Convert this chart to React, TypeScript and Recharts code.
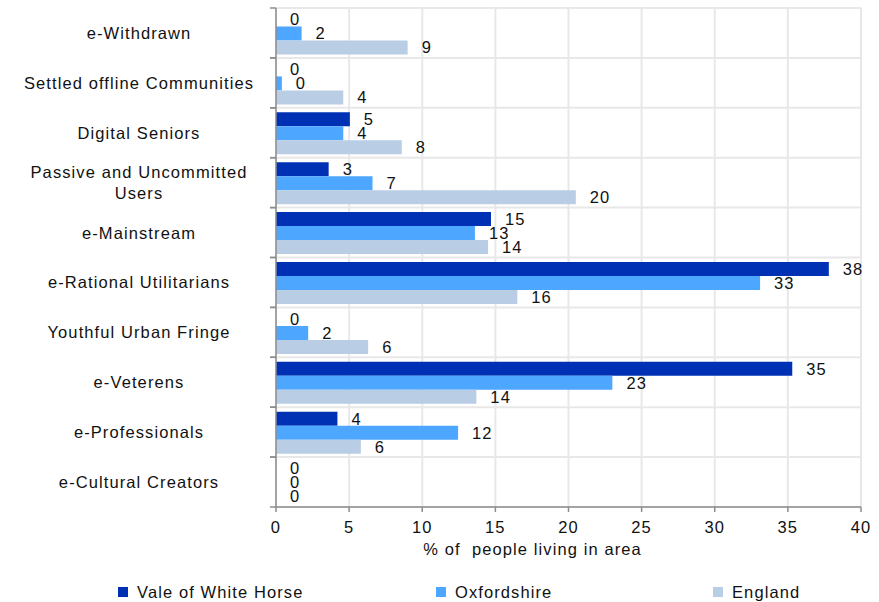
import React from "react";
import { BarChart, Bar, XAxis, YAxis, CartesianGrid, Legend, LabelList } from "recharts";

const categories = [
  "e-Withdrawn",
  "Settled offline Communities",
  "Digital Seniors",
  "Passive and Uncommitted Users",
  "e-Mainstream",
  "e-Rational Utilitarians",
  "Youthful Urban Fringe",
  "e-Veterens",
  "e-Professionals",
  "e-Cultural Creators",
];

const valeOfWhiteHorse = [0, 0, 5.05, 3.6, 14.7, 37.8, 0, 35.3, 4.2, 0];
const oxfordshire = [1.75, 0.4, 4.6, 6.6, 13.6, 33.1, 2.2, 23.0, 12.45, 0];
const england = [9.0, 4.6, 8.6, 20.5, 14.5, 16.5, 6.3, 13.7, 5.8, 0];

// labels as printed on the chart
const valeLabels = [0, 0, 5, 3, 15, 38, 0, 35, 4, 0];
const oxfordLabels = [2, 0, 4, 7, 13, 33, 2, 23, 12, 0];
const englandLabels = [9, 4, 8, 20, 14, 16, 6, 14, 6, 0];

const xTicks = [0, 5, 10, 15, 20, 25, 30, 35, 40];

const data = categories.map((name, i) => ({
  name,
  vale: valeOfWhiteHorse[i],
  oxford: oxfordshire[i],
  england: england[i],
  valeLabel: valeLabels[i],
  oxfordLabel: oxfordLabels[i],
  englandLabel: englandLabels[i],
}));

const W = 879;
const H = 602;
const AXIS_W = 276;
const AXIS_GRAY = "#8c8c8c";
const LS = 1.1;
const FS = 16.5;

function splitLabel(label: string, max = 27) {
  const words = label.split(" ");
  const lines: string[] = [];
  let cur = "";
  words.forEach((w) => {
    const next = cur ? cur + " " + w : w;
    if (next.length > max && cur) {
      lines.push(cur);
      cur = w;
    } else cur = next;
  });
  if (cur) lines.push(cur);
  return lines;
}

const CategoryTick = (props: any) => {
  const { y, payload } = props;
  const band = (H - 8 - 5 - 45 - 45) / categories.length;
  const lines = splitLabel(payload.value);
  const lh = 21;
  const startY = y - ((lines.length - 1) * lh) / 2;
  return (
    <g>
      <line x1={AXIS_W - 6} x2={AXIS_W} y1={y - band / 2} y2={y - band / 2} stroke={AXIS_GRAY} strokeWidth={1.5} />
      <line x1={AXIS_W - 6} x2={AXIS_W} y1={y + band / 2} y2={y + band / 2} stroke={AXIS_GRAY} strokeWidth={1.5} />
      <text x={139} y={startY} textAnchor="middle" dominantBaseline="central" fontSize={FS} fill="#111" letterSpacing={LS}>
        {lines.map((l, i) => (
          <tspan key={i} x={139} dy={i === 0 ? 0 : lh}>
            {l}
          </tspan>
        ))}
      </text>
    </g>
  );
};

const AxisTitle = (props: any) => {
  const vb = props.viewBox || { x: AXIS_W, y: 507, width: 585 };
  return (
    <text
      x={vb.x + vb.width / 2 - 36}
      y={vb.y + 48}
      textAnchor="middle"
      fontSize={FS}
      fill="#111"
      letterSpacing={LS}
      style={{ whiteSpace: "pre" }}
    >
      % of  people living in area
    </text>
  );
};

const legendX: Record<string, number> = { vale: 118, oxford: 436, england: 713 };

const renderLegend = (props: any) => (
  <div style={{ position: "relative", height: 45 }}>
    {(props.payload || []).map((p: any, i: number) => (
      <div
        key={i}
        style={{
          position: "absolute",
          left: legendX[p.dataKey] ?? 0,
          top: 30,
          height: 20,
          lineHeight: "20px",
          display: "flex",
          alignItems: "center",
          fontSize: FS,
          letterSpacing: LS,
          color: "#111",
          whiteSpace: "nowrap",
        }}
      >
        <span style={{ display: "inline-block", width: 10, height: 10, background: p.color, marginRight: 9 }} />
        {p.value}
      </div>
    ))}
  </div>
);

const labelStyle = { fill: "#111", fontSize: FS, letterSpacing: LS };

export default function App() {
  return (
    <div
      style={{
        position: "absolute",
        left: 0,
        top: 0,
        width: W,
        height: H,
        background: "#fff",
        fontFamily: "'Liberation Sans', Arial, sans-serif",
      }}
    >
      <BarChart
        width={W}
        height={H}
        data={data}
        layout="vertical"
        margin={{ top: 8, right: 18, left: 0, bottom: 5 }}
        barCategoryGap={4.5}
        barGap={0}
      >
        <CartesianGrid
          stroke="#e8e8e8"
          strokeWidth={2}
          horizontalCoordinatesGenerator={({ offset }: any) =>
            categories.map((_, i) => offset.top + (i * offset.height) / categories.length).concat(offset.top + offset.height)
          }
        />
        <XAxis
          type="number"
          domain={[0, 40]}
          ticks={xTicks}
          interval={0}
          height={45}
          axisLine={{ stroke: AXIS_GRAY, strokeWidth: 1.5 }}
          tickLine={{ stroke: AXIS_GRAY, strokeWidth: 1.5 }}
          tickSize={5}
          tickMargin={9}
          tick={{ fill: "#111", fontSize: FS, letterSpacing: LS }}
          label={<AxisTitle />}
        />
        <YAxis
          type="category"
          dataKey="name"
          width={AXIS_W}
          interval={0}
          axisLine={{ stroke: AXIS_GRAY, strokeWidth: 1.5 }}
          tickLine={false}
          tick={<CategoryTick />}
        />
        <Legend verticalAlign="bottom" height={45} content={renderLegend} />
        <Bar dataKey="vale" name="Vale of White Horse" fill="#0030B4" minPointSize={0.01} isAnimationActive={false}>
          <LabelList dataKey="valeLabel" position="right" offset={14} style={labelStyle} />
        </Bar>
        <Bar dataKey="oxford" name="Oxfordshire" fill="#4DA6FF" minPointSize={0.01} isAnimationActive={false}>
          <LabelList dataKey="oxfordLabel" position="right" offset={14} style={labelStyle} />
        </Bar>
        <Bar dataKey="england" name="England" fill="#B9CDE5" minPointSize={0.01} isAnimationActive={false}>
          <LabelList dataKey="englandLabel" position="right" offset={14} style={labelStyle} />
        </Bar>
      </BarChart>
    </div>
  );
}
